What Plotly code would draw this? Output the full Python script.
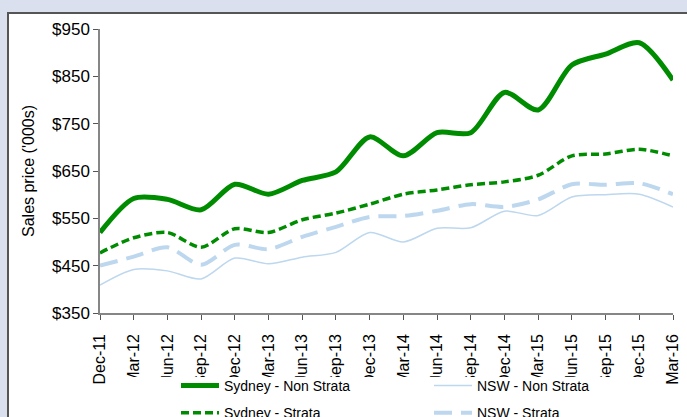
import plotly.graph_objects as go

quarters = ["Dec-11", "Mar-12", "Jun-12", "Sep-12", "Dec-12", "Mar-13", "Jun-13", "Sep-13",
            "Dec-13", "Mar-14", "Jun-14", "Sep-14", "Dec-14", "Mar-15", "Jun-15", "Sep-15",
            "Dec-15", "Mar-16"]

sydney_non_strata = [520, 592, 590, 568, 622, 601, 630, 648, 722, 682, 731, 731, 816, 779, 874, 897, 921, 842]
sydney_strata = [477, 509, 520, 489, 528, 520, 547, 561, 580, 601, 610, 621, 627, 641, 682, 686, 696, 682]
nsw_non_strata = [409, 442, 439, 422, 466, 454, 468, 478, 520, 500, 529, 530, 565, 556, 595, 600, 601, 574]
nsw_strata = [450, 469, 489, 452, 494, 485, 511, 532, 553, 555, 566, 580, 574, 590, 622, 621, 624, 601]

GREEN = "#008c00"
LBLUE = "#bdd7ee"

fig = go.Figure()
fig.add_trace(go.Scatter(x=quarters, y=nsw_non_strata, name="NSW - Non Strata", mode="lines",
                         line=dict(color=LBLUE, width=1.5, shape="spline", smoothing=0.8),
                         legend="legend2", legendrank=1, legendgroup="c"))
fig.add_trace(go.Scatter(x=quarters, y=nsw_strata, name="NSW - Strata", mode="lines",
                         line=dict(color=LBLUE, width=4, dash="18px,9px", shape="spline", smoothing=0.8),
                         legend="legend2", legendrank=2, legendgroup="d"))
fig.add_trace(go.Scatter(x=quarters, y=sydney_strata, name="Sydney - Strata", mode="lines",
                         line=dict(color=GREEN, width=3.5, dash="8px,4px", shape="spline", smoothing=0.8),
                         legend="legend", legendrank=2, legendgroup="b"))
fig.add_trace(go.Scatter(x=quarters, y=sydney_non_strata, name="Sydney - Non Strata", mode="lines",
                         line=dict(color=GREEN, width=5, shape="spline", smoothing=0.8),
                         legend="legend", legendrank=1, legendgroup="a"))

W, H = 687, 417
L, R, T, B = 100, 14, 29, 104
pw, ph = W - L - R, H - T - B

def px(x):
    return (x - L) / pw

def py(y):
    return (H - B - y) / ph

leg = dict(yanchor="top", xanchor="left", tracegroupgap=6, font=dict(size=14),
           bgcolor="rgba(0,0,0,0)", itemwidth=38, traceorder="grouped", groupclick="toggleitem")

fig.update_layout(
    width=W, height=H,
    margin=dict(l=L, r=R, t=T, b=B, autoexpand=False),
    paper_bgcolor="#dbe0ee",
    plot_bgcolor="white",
    font=dict(family="Liberation Sans, Arial, sans-serif", size=16, color="black"),
    showlegend=True,
    legend=dict(leg, x=px(176), y=py(370)),
    legend2=dict(leg, x=px(429), y=py(370)),
    shapes=[
        dict(type="rect", xref="paper", yref="paper", x0=px(8), x1=px(720), y0=py(460), y1=py(13),
             fillcolor="white", line=dict(color="#555555", width=2), layer="below"),
        dict(type="rect", xref="paper", yref="paper", x0=px(114), x1=px(647), y0=py(460), y1=py(377),
             fillcolor="white", line=dict(width=0), layer="above"),
    ],
)

fig.update_xaxes(type="category", showgrid=False, showline=True, linecolor="#868686", linewidth=1.5,
                 ticks="outside", ticklen=5, tickcolor="#555555", tickangle=-90, ticklabelstandoff=8,
                 tickfont=dict(size=16), range=[0, 17], zeroline=False)
fig.update_yaxes(range=[350, 950], tick0=350, dtick=100, tickprefix="$", showgrid=False, showline=True,
                 linecolor="#868686", linewidth=1.5, ticks="outside", ticklen=5, tickcolor="#555555",
                 tickfont=dict(size=17), zeroline=False,
                 title=dict(text="Sales price ('000s)", font=dict(size=16), standoff=13))

fig.write_html("out.html", config={"displayModeBar": False},
               post_script="document.body.style.margin='0';")
